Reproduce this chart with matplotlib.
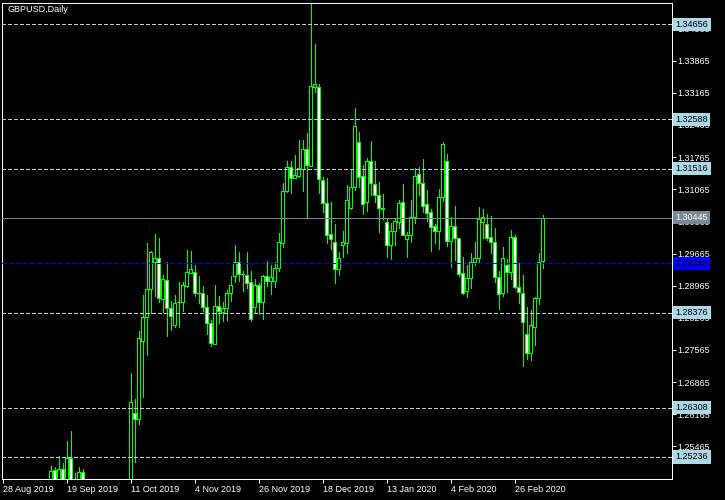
import numpy as np
import matplotlib
matplotlib.use("Agg")
import matplotlib.pyplot as plt
from matplotlib.transforms import blended_transform_factory

plt.rcParams['font.family'] = ['Liberation Sans', 'DejaVu Sans']

# daily GBPUSD bars, 28 Aug 2019 .. 6 Mar 2020 (first ones sit below the visible range)
opens = [1.2220, 1.2207, 1.2175, 1.2150, 1.2060, 1.2080, 1.2220, 1.2290, 1.2280, 1.2350,
         1.2355, 1.2330, 1.2330, 1.2495, 1.2430, 1.2497, 1.2465, 1.2522, 1.2460, 1.2440,
         1.2490, 1.2320, 1.2320, 1.2290, 1.2290, 1.2290, 1.2310, 1.2340, 1.2330, 1.2290,
         1.2220, 1.2210, 1.2440, 1.2619, 1.2606, 1.2777, 1.2828, 1.2889, 1.2947, 1.2956,
         1.2867, 1.2909, 1.2847, 1.2811, 1.2860, 1.2860, 1.2896, 1.2925, 1.2926, 1.2880,
         1.2880, 1.2851, 1.2815, 1.2770, 1.2852, 1.2840, 1.2847, 1.2880, 1.2918, 1.2949,
         1.2922, 1.2919, 1.2904, 1.2851, 1.2898, 1.2862, 1.2917, 1.2907, 1.2907, 1.2936,
         1.2989, 1.3103, 1.3154, 1.3132, 1.3136, 1.3150, 1.3193, 1.3158, 1.3328, 1.3328,
         1.3127, 1.3076, 1.3008, 1.2992, 1.2932, 1.2984, 1.2990, 1.3066, 1.3111, 1.3209,
         1.3135, 1.3078, 1.3167, 1.3118, 1.3093, 1.3064, 1.3035, 1.2984, 1.3016, 1.3036,
         1.3078, 1.2998, 1.3006, 1.3045, 1.3139, 1.3119, 1.3074, 1.3056, 1.3027, 1.3016,
         1.3089, 1.3169, 1.2994, 1.3027, 1.3000, 1.2925, 1.2884, 1.2913, 1.2949, 1.2956,
         1.3036, 1.3030, 1.3002, 1.2992, 1.2916, 1.2880, 1.2942, 1.2927, 1.3002, 1.2894,
         1.2881, 1.2791, 1.2751, 1.2807, 1.2869, 1.2951]
highs = [1.2248, 1.2225, 1.2195, 1.2160, 1.2090, 1.2240, 1.2350, 1.2330, 1.2380, 1.2385,
         1.2370, 1.2385, 1.2504, 1.2501, 1.2526, 1.2511, 1.2558, 1.2580, 1.2488, 1.2501,
         1.2497, 1.2370, 1.2340, 1.2320, 1.2340, 1.2350, 1.2340, 1.2350, 1.2350, 1.2300,
         1.2260, 1.2440, 1.2706, 1.2650, 1.2798, 1.2876, 1.2990, 1.2973, 1.3010, 1.3000,
         1.2920, 1.2949, 1.2864, 1.2876, 1.2905, 1.2905, 1.2974, 1.2972, 1.2942, 1.2918,
         1.2896, 1.2876, 1.2822, 1.2898, 1.2874, 1.2862, 1.2887, 1.2918, 1.2985, 1.2969,
         1.2928, 1.2969, 1.2928, 1.2910, 1.2902, 1.2920, 1.2950, 1.2942, 1.2947, 1.3011,
         1.3119, 1.3167, 1.3167, 1.3180, 1.3214, 1.3214, 1.3228, 1.3513, 1.3423, 1.3335,
         1.3134, 1.3130, 1.3078, 1.3031, 1.2969, 1.3016, 1.3116, 1.3148, 1.3284, 1.3232,
         1.3159, 1.3174, 1.3212, 1.3168, 1.3123, 1.3096, 1.3043, 1.3034, 1.3043, 1.3083,
         1.3118, 1.3013, 1.3083, 1.3152, 1.3154, 1.3172, 1.3105, 1.3063, 1.3030, 1.3108,
         1.3209, 1.3183, 1.3045, 1.3070, 1.3001, 1.2960, 1.2942, 1.2967, 1.2991, 1.3067,
         1.3064, 1.3053, 1.3048, 1.3021, 1.2929, 1.2980, 1.2954, 1.3018, 1.3006, 1.2945,
         1.2920, 1.2849, 1.2844, 1.2871, 1.2967, 1.3050]
lows = [1.2187, 1.2160, 1.2128, 1.2030, 1.1958, 1.2070, 1.2200, 1.2260, 1.2240, 1.2300,
        1.2300, 1.2285, 1.2320, 1.2410, 1.2420, 1.2440, 1.2455, 1.2440, 1.2420, 1.2430,
        1.2310, 1.2290, 1.2270, 1.2280, 1.2285, 1.2290, 1.2290, 1.2290, 1.2270, 1.2200,
        1.2200, 1.2200, 1.2430, 1.2513, 1.2595, 1.2655, 1.2746, 1.2836, 1.2873, 1.2860,
        1.2840, 1.2786, 1.2800, 1.2806, 1.2806, 1.2842, 1.2893, 1.2924, 1.2874, 1.2858,
        1.2842, 1.2791, 1.2765, 1.2769, 1.2815, 1.2820, 1.2822, 1.2864, 1.2904, 1.2907,
        1.2886, 1.2891, 1.2820, 1.2836, 1.2834, 1.2824, 1.2896, 1.2878, 1.2894, 1.2929,
        1.2981, 1.3101, 1.3099, 1.3130, 1.3134, 1.3103, 1.3047, 1.3157, 1.3319, 1.3098,
        1.3058, 1.2989, 1.2976, 1.2903, 1.2920, 1.2958, 1.2967, 1.3063, 1.3105, 1.3112,
        1.3052, 1.3060, 1.3094, 1.3078, 1.3013, 1.3041, 1.2960, 1.2954, 1.2984, 1.3021,
        1.3006, 1.2960, 1.2992, 1.3032, 1.3094, 1.3056, 1.3038, 1.2973, 1.2989, 1.2976,
        1.3080, 1.2982, 1.2938, 1.2953, 1.2918, 1.2879, 1.2871, 1.2892, 1.2942, 1.2945,
        1.3000, 1.2996, 1.2968, 1.2905, 1.2846, 1.2873, 1.2882, 1.2911, 1.2892, 1.2858,
        1.2722, 1.2737, 1.2735, 1.2767, 1.2857, 1.2936]
closes = [1.2207, 1.2175, 1.2160, 1.2060, 1.2080, 1.2220, 1.2290, 1.2290, 1.2350, 1.2355,
          1.2330, 1.2330, 1.2493, 1.2430, 1.2497, 1.2465, 1.2521, 1.2460, 1.2440, 1.2490,
          1.2320, 1.2320, 1.2290, 1.2290, 1.2290, 1.2310, 1.2340, 1.2330, 1.2290, 1.2220,
          1.2210, 1.2440, 1.2644, 1.2606, 1.2782, 1.2828, 1.2889, 1.2970, 1.2956, 1.2869,
          1.2910, 1.2847, 1.2831, 1.2858, 1.2861, 1.2898, 1.2926, 1.2932, 1.2880, 1.2881,
          1.2851, 1.2815, 1.2772, 1.2852, 1.2842, 1.2847, 1.2880, 1.2898, 1.2949, 1.2923,
          1.2923, 1.2903, 1.2824, 1.2898, 1.2862, 1.2917, 1.2907, 1.2915, 1.2936, 1.2991,
          1.3103, 1.3154, 1.3132, 1.3137, 1.3152, 1.3193, 1.3159, 1.3332, 1.3335, 1.3128,
          1.3076, 1.3007, 1.2998, 1.2932, 1.2956, 1.2991, 1.3083, 1.3111, 1.3244, 1.3134,
          1.3074, 1.3167, 1.3120, 1.3093, 1.3065, 1.3065, 1.2984, 1.3016, 1.3037, 1.3076,
          1.3007, 1.3007, 1.3045, 1.3136, 1.3119, 1.3069, 1.3054, 1.3025, 1.3016, 1.3089,
          1.3206, 1.2994, 1.3027, 1.3000, 1.2923, 1.2880, 1.2913, 1.2947, 1.2956, 1.3041,
          1.3045, 1.3001, 1.2992, 1.2916, 1.2878, 1.2956, 1.2927, 1.3002, 1.2893, 1.2882,
          1.2818, 1.2751, 1.2810, 1.2869, 1.2949, 1.30445]

date_ticks = [0, 16, 32, 48, 64, 80, 96, 112, 128]
date_labels = ["28 Aug 2019", "19 Sep 2019", "11 Oct 2019", "4 Nov 2019", "26 Nov 2019",
               "18 Dec 2019", "13 Jan 2020", "4 Feb 2020", "26 Feb 2020"]
price_ticks = [1.25465, 1.26165, 1.26865, 1.27565, 1.28265, 1.28965, 1.29665,
               1.30365, 1.31065, 1.31765, 1.32465, 1.33165, 1.33865, 1.34565]
levels = [1.34656, 1.32588, 1.31516, 1.28376, 1.26308, 1.25236]
bid_price = 1.30445
alert_price = 1.29448

LW = 0.7  # just under one pixel at 100 dpi, so crisp lines stay 1 px
LIME = '#00ff00'

fig = plt.figure(figsize=(7.25, 5), dpi=100, facecolor='black')
ax = fig.add_axes([2 / 725, 21 / 500, 670 / 725, 476.3 / 500], facecolor='black')

o, h, l, c = map(np.array, (opens, highs, lows, closes))
x = np.arange(len(o))
up = c >= o

ax.vlines(x, l, h, color=LIME, lw=LW, zorder=2, antialiased=False)
ax.bar(x, np.maximum(np.abs(c - o), 0.00005), bottom=np.minimum(o, c), width=0.62,
       color=np.where(up, 'black', 'white'), edgecolor=LIME, linewidth=LW,
       zorder=3, antialiased=False)

for lv in levels:
    ax.axhline(lv, color='#add8e6', lw=LW, ls=(0, (4, 3)), zorder=4, antialiased=False)
ax.axhline(bid_price, color='#778899', lw=LW, zorder=4, antialiased=False)
ax.axhline(alert_price, color='#0000ff', lw=LW, ls=(0, (5, 3)), zorder=4, antialiased=False)

ax.set_xlim(-0.175, 167.325)
ax.set_ylim(1.24756, 1.35126)

ax.yaxis.tick_right()
ax.set_yticks(price_ticks)
ax.set_yticklabels([f"{v:.5f}" for v in price_ticks])
ax.tick_params(axis='y', colors='white', length=2.9, width=LW, pad=1.2, labelsize=6.5)
ax.set_xticks(date_ticks)
ax.set_xticklabels(date_labels, ha='left')
ax.tick_params(axis='x', colors='white', length=2.9, width=LW, pad=1.5, labelsize=6.5)
for sp in ax.spines.values():
    sp.set_color('white')
    sp.set_linewidth(0.72)

# price labels on the right scale
tr = blended_transform_factory(ax.transAxes, ax.transData)
lab_x = 675.7 / 670 - 2 / 670
for lv in levels:
    ax.text(lab_x, lv, f"{lv:.5f}", transform=tr, ha='left', va='center', fontsize=6.5,
            color='black', clip_on=False, zorder=6,
            bbox=dict(boxstyle='square,pad=0.25', fc='#add8e6', ec='none'))
ax.text(lab_x, bid_price, f"{bid_price:.5f}", transform=tr, ha='left', va='center',
        fontsize=6.5, color='white', clip_on=False, zorder=6,
        bbox=dict(boxstyle='square,pad=0.25', fc='#778899', ec='none'))
ax.text(lab_x, alert_price, f"{alert_price:.5f}", transform=tr, ha='left', va='center',
        fontsize=6.5, color='black', clip_on=False, zorder=6,
        bbox=dict(boxstyle='square,pad=0.25', fc='#0000ff', ec='none'))

fig.text(7 / 725, 1 - 10 / 500, "GBPUSD,Daily", color='white', fontsize=6.5,
         ha='left', va='center')

fig.savefig('out.png', dpi=100, facecolor='black')
